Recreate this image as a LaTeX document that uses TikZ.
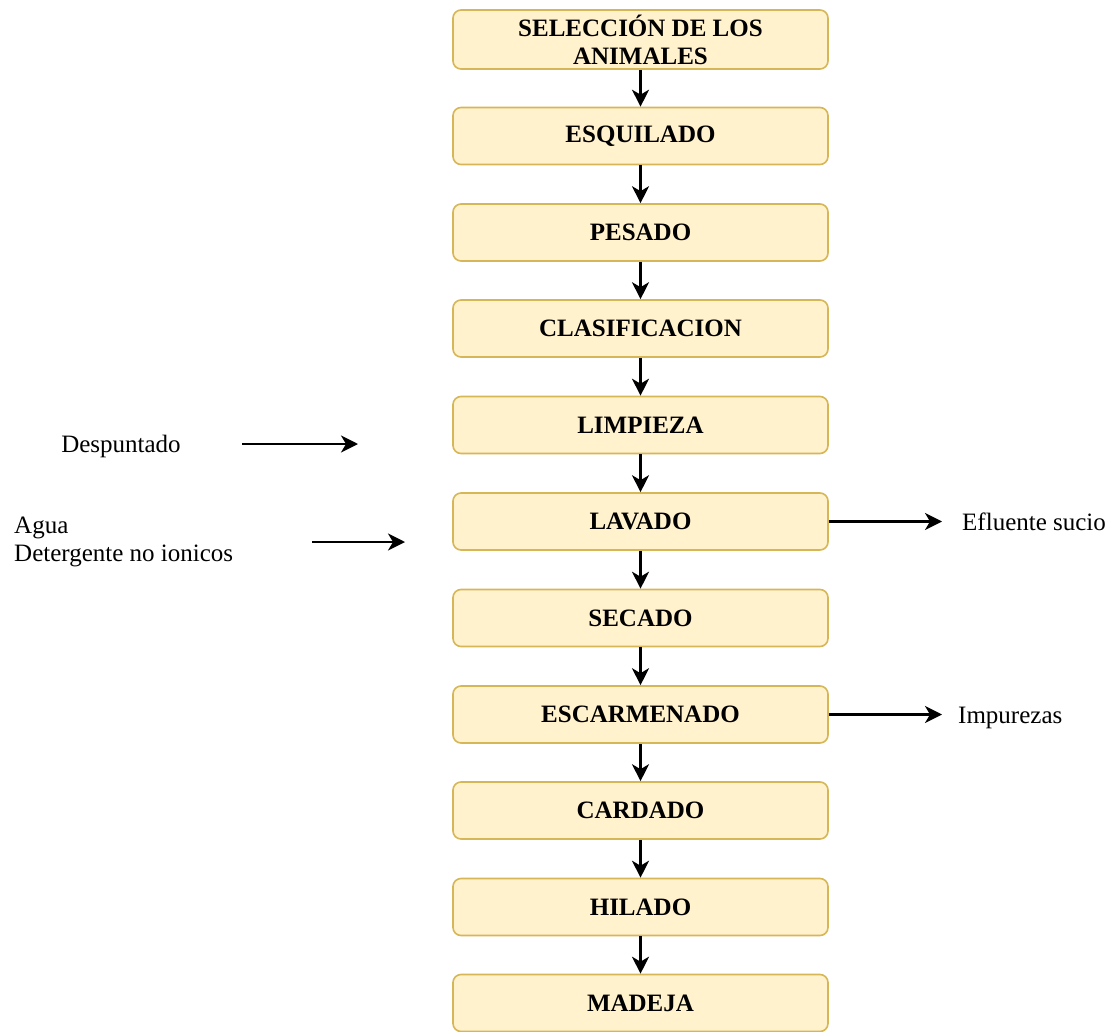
\documentclass[tikz,border=0pt]{standalone}
\usepackage{fontspec}
\setmainfont{Liberation Serif}
\usetikzlibrary{arrows.meta}
\definecolor{boxfill}{HTML}{FFF2CC}
\definecolor{boxdraw}{HTML}{D6B656}
\begin{document}
\begin{tikzpicture}[x=1pt,y=-1pt,
  stepbox/.style={draw=boxdraw,fill=boxfill,line width=1.6pt,rounded corners=8pt,
    minimum width=375pt,minimum height=57pt,inner sep=0pt,align=center,
    font=\fontsize{25}{28}\selectfont\bfseries},
  lbl/.style={font=\fontsize{25}{28}\selectfont,inner sep=0pt,align=left},
  flow/.style={line width=2.2pt,-{Stealth[length=17pt,width=17pt,inset=5pt]}}]
\useasboundingbox (0,0) rectangle (1118,1032);
\node[stepbox,minimum height=59pt] (b1) at (640.5,39.5) {SELECCIÓN DE LOS\\ANIMALES};
\node[stepbox] (b2) at (640.5,136) {ESQUILADO};
\node[stepbox] (b3) at (640.5,232.5) {PESADO};
\node[stepbox] (b4) at (640.5,328.5) {CLASIFICACION};
\node[stepbox] (b5) at (640.5,425) {LIMPIEZA};
\node[stepbox] (b6) at (640.5,521.5) {LAVADO};
\node[stepbox] (b7) at (640.5,618) {SECADO};
\node[stepbox] (b8) at (640.5,714.5) {ESCARMENADO};
\node[stepbox] (b9) at (640.5,810.5) {CARDADO};
\node[stepbox] (b10) at (640.5,907) {HILADO};
\node[stepbox] (b11) at (640.5,1003) {MADEJA};
\foreach \a/\b in {b1/b2,b2/b3,b3/b4,b4/b5,b5/b6,b6/b7,b7/b8,b8/b9,b9/b10,b10/b11}
  \draw[flow] (\a) -- (\b);
\node[lbl] (desp) at (121,446) {Despuntado};
\coordinate (d1) at (242,444);
\coordinate (d2) at (358,444);
\draw[flow] (d1) -- (d2);
\node[lbl,anchor=west] (agua) at (14,542) {Agua\\Detergente no ionicos};
\coordinate (a1) at (312,542);
\coordinate (a2) at (405,542);
\draw[flow] (a1) -- (a2);
\coordinate (e2) at (942,521.5);
\draw[flow] (b6.east) -- (e2);
\node[lbl,anchor=west] (efl) at (962,522) {Efluente sucio};
\coordinate (i2) at (942,714.5);
\draw[flow] (b8.east) -- (i2);
\node[lbl,anchor=west] (imp) at (958,718) {Impurezas};
\end{tikzpicture}
\end{document}
